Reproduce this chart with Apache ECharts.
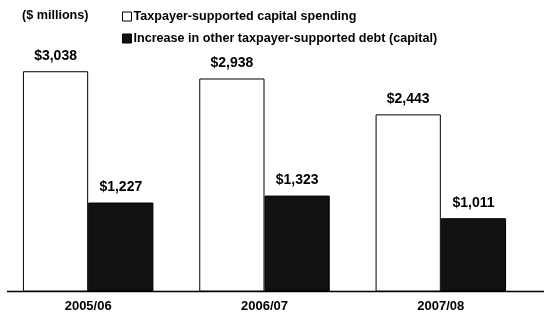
<!DOCTYPE html>
<html>
<head>
<meta charset="utf-8">
<script src="https://cdn.jsdelivr.net/npm/echarts@6/dist/echarts.min.js"></script>
<style>
  html, body { margin: 0; padding: 0; background: #fff; }
  #chart { width: 544px; height: 318px; }
</style>
</head>
<body>
<div id="chart"></div>
<script>
// data
var years = ["2005/06", "2006/07", "2007/08"];
var capitalSpending = [3038, 2938, 2443];
var otherDebt = [1227, 1323, 1011];
var seriesNames = [
  "Taxpayer-supported capital spending",
  "Increase in other taxpayer-supported debt (capital)"
];

var FONT = "Arial, 'Liberation Sans', sans-serif";

function money(p) {
  return "$" + p.value.toLocaleString("en-US");
}

var myChart = echarts.init(document.getElementById("chart"), null, { renderer: "canvas" });
var option = {
  animation: false,
  backgroundColor: "#fff",
  textStyle: { fontFamily: FONT, color: "#000" },
  grid: { left: -1, right: 15, top: 1.5, bottom: 26.5, containLabel: false },
  legend: {
    orient: "vertical",
    left: 117,
    top: 5,
    itemWidth: 9,
    itemHeight: 9,
    itemGap: 9,
    selectedMode: false,
    textStyle: { fontFamily: FONT, fontWeight: "bold", fontSize: 12.6, color: "#000", padding: [0, 0, 0, -3] },
    data: [
      { name: seriesNames[0], icon: "rect", itemStyle: { color: "#fff", borderColor: "#000", borderWidth: 1 } },
      { name: seriesNames[1], icon: "rect", itemStyle: { color: "#111", borderColor: "#000", borderWidth: 1 } }
    ]
  },
  graphic: [
    {
      type: "text",
      left: 22,
      top: 9,
      style: { text: "($ millions)", font: "bold 12.6px " + FONT, fill: "#000" }
    },
    {
      // baseline, it runs past the plot on the right
      type: "line",
      shape: { x1: 7, y1: 291.5, x2: 544, y2: 291.5 },
      style: { stroke: "#000", lineWidth: 1.5 }
    }
  ],
  xAxis: {
    type: "category",
    data: years,
    axisLine: { show: false },
    axisTick: { show: false },
    axisLabel: { fontFamily: FONT, fontWeight: "bold", fontSize: 13, color: "#000", margin: 8 }
  },
  yAxis: {
    type: "value",
    min: 0,
    max: 4000,
    show: false,
    splitLine: { show: false }
  },
  series: [
    {
      name: seriesNames[0],
      type: "bar",
      data: capitalSpending,
      barGap: "0%",
      barCategoryGap: "26%",
      itemStyle: { color: "#fff", borderColor: "#000", borderWidth: 1 },
      label: {
        show: true,
        position: "top",
        distance: 8,
        formatter: money,
        fontFamily: FONT,
        fontWeight: "bold",
        fontSize: 14,
        color: "#000"
      }
    },
    {
      name: seriesNames[1],
      type: "bar",
      data: otherDebt,
      itemStyle: { color: "#111", borderColor: "#000", borderWidth: 1 },
      label: {
        show: true,
        position: "top",
        distance: 8,
        formatter: money,
        fontFamily: FONT,
        fontWeight: "bold",
        fontSize: 14,
        color: "#000"
      }
    }
  ]
};
myChart.setOption(option);
</script>
</body>
</html>
